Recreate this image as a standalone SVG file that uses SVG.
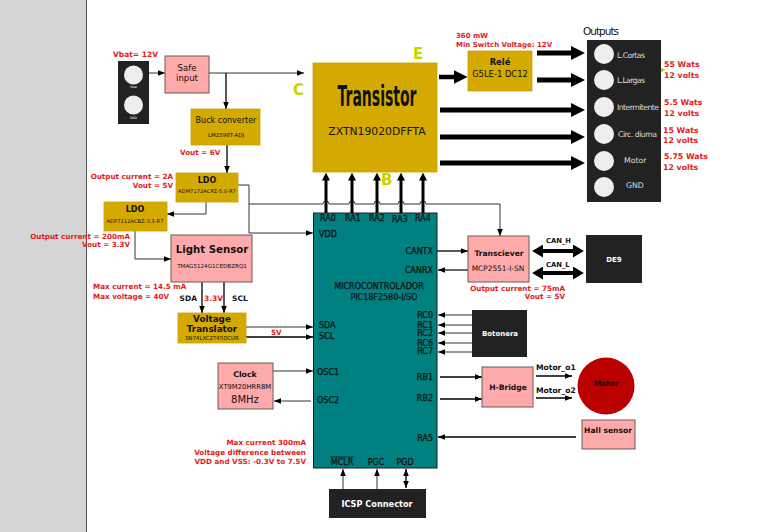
<svg xmlns="http://www.w3.org/2000/svg" width="774" height="532" viewBox="0 0 774 532">
<style>
text{font-family:"DejaVu Sans","Liberation Sans",sans-serif;fill:#111}
.b{font-weight:bold}
.r{fill:#e41a1a;font-weight:bold;font-size:7.2px}
.m{text-anchor:middle}
.e{text-anchor:end}
.ol{fill:#d4aa00;stroke:#c9a300;stroke-width:0.8}
.pk{fill:#ffaaaa;stroke:#6b5a5a;stroke-width:1}
.bk{fill:#222}
.w{fill:#fff}
.ln{fill:none;stroke:#333;stroke-width:1}
.lk{fill:none;stroke:#000;stroke-width:1.3}
.th{fill:none;stroke:#000;stroke-width:5}
.ra{fill:none;stroke:#000;stroke-width:3}
.cl{fill:#c8d400;font-weight:bold}
.ci{fill:#eee}
.ot{fill:#ddd;font-size:7.8px}
.mp text{stroke:#111;stroke-width:0.25;font-size:8px}
</style>
<defs>
<marker id="s" viewBox="0 0 10 10" refX="10" refY="5" markerWidth="7" markerHeight="7" markerUnits="userSpaceOnUse" orient="auto"><path d="M0,1 L10,5 L0,9 z" fill="#000"/></marker>
<marker id="sr" viewBox="0 0 10 10" refX="10" refY="5" markerWidth="7" markerHeight="7" markerUnits="userSpaceOnUse" orient="auto-start-reverse"><path d="M0,1 L10,5 L0,9 z" fill="#000"/></marker>
<marker id="ram" viewBox="0 0 10 10" refX="1" refY="5" markerWidth="8" markerHeight="8" markerUnits="userSpaceOnUse" orient="auto"><path d="M0,0 L10,5 L0,10 z" fill="#000"/></marker>
<marker id="big" viewBox="0 0 10 10" refX="1" refY="5" markerWidth="14" markerHeight="14" markerUnits="userSpaceOnUse" orient="auto"><path d="M0,0 L10,5 L0,10 z" fill="#000"/></marker>
<marker id="can" viewBox="0 0 10 10" refX="1" refY="5" markerWidth="11" markerHeight="13" markerUnits="userSpaceOnUse" orient="auto-start-reverse" preserveAspectRatio="none"><path d="M0,0 L10,5 L0,10 z" fill="#000"/></marker>
</defs>
<rect x="0" y="0" width="774" height="532" fill="#fff"/>
<rect x="0" y="0" width="86" height="532" fill="#d4d4d4"/>
<line x1="86.5" y1="0" x2="86.5" y2="532" stroke="#555" stroke-width="1"/>

<g id="connectors">
<path class="ln" d="M149,73 H165" marker-end="url(#s)"/>
<path class="ln" d="M209,73 H304" marker-end="url(#s)"/>
<path class="lk" d="M226,73 V109" marker-end="url(#s)"/>
<path class="lk" d="M227,145 V173" marker-end="url(#s)"/>
<path class="ln" d="M238,185 H249 V233 H313" marker-end="url(#s)"/>
<path class="ln" d="M249,204 H323 a3,3 0 0 1 6,0 H349 a3,3 0 0 1 6,0 H374 a3,3 0 0 1 6,0 H398 a3,3 0 0 1 6,0 H420 a3,3 0 0 1 6,0 H500 V236" marker-end="url(#s)"/>
<path class="ln" d="M206,202 V214 H167" marker-end="url(#s)"/>
<path class="ln" d="M135,231 V259 H171" marker-end="url(#s)"/>
<path class="lk" d="M202,282 V313" marker-end="url(#s)"/>
<path class="lk" d="M224,282 V313" marker-end="url(#s)"/>
<path class="ln" d="M246,327 H313" marker-end="url(#s)"/>
<path class="lk" d="M246,337 H313" marker-end="url(#s)"/>
<path class="ln" d="M273,371 H313" marker-end="url(#s)"/>
<path class="ln" d="M311,401 H274" marker-end="url(#s)"/>
<path class="ra" d="M326,213 V179.8" marker-end="url(#ram)"/>
<path class="ra" d="M352,213 V179.8" marker-end="url(#ram)"/>
<path class="ra" d="M377,213 V179.8" marker-end="url(#ram)"/>
<path class="ra" d="M401,213 V179.8" marker-end="url(#ram)"/>
<path class="ra" d="M423,213 V179.8" marker-end="url(#ram)"/>
<path class="th" d="M439,77 H455" marker-end="url(#big)" style="stroke-width:4.5"/>
<path class="th" d="M537,53 H572.4" marker-end="url(#big)"/>
<path class="th" d="M537,80 H572.4" marker-end="url(#big)"/>
<path class="th" d="M440,110 H572.4" marker-end="url(#big)"/>
<path class="th" d="M440,137 H572.4" marker-end="url(#big)"/>
<path class="th" d="M440,163 H572.4" marker-end="url(#big)"/>
<path class="lk" d="M437,251 H468" marker-end="url(#s)"/>
<path class="ln" d="M468,270 H438" marker-end="url(#s)" style="stroke-width:1.5"/>
<path class="th" d="M542,251 H574" marker-start="url(#can)" marker-end="url(#can)" style="stroke-width:4"/>
<path class="th" d="M542,273 H574" marker-start="url(#can)" marker-end="url(#can)" style="stroke-width:4"/>
<path class="ln" d="M472,315 H438" marker-end="url(#s)"/>
<path class="ln" d="M472,325 H438" marker-end="url(#s)"/>
<path class="ln" d="M472,333 H438" marker-end="url(#s)"/>
<path class="ln" d="M472,343 H438" marker-end="url(#s)"/>
<path class="ln" d="M472,352 H438" marker-end="url(#s)"/>
<path class="lk" d="M440,377 H482" marker-end="url(#s)"/>
<path class="lk" d="M440,399 H482" marker-end="url(#s)"/>
<path class="lk" d="M536,376 H572" marker-end="url(#s)"/>
<path class="lk" d="M536,398 H572" marker-end="url(#s)"/>
<path class="lk" d="M576,437 H438" marker-end="url(#s)" style="stroke-width:1.6"/>
<path class="ln" d="M343,489 V469" marker-end="url(#s)"/>
<path class="ln" d="M377,489 V469" marker-end="url(#s)"/>
<path class="lk" d="M406,488 V469" marker-start="url(#sr)" marker-end="url(#sr)"/>
<path d="M654,49 q5,0 5,4 v12 q0,4 3,5 q-3,1 -3,5 v12 q0,4 -5,4" fill="none" stroke="#aad400" stroke-width="2.5"/>
</g>

<g id="vbat">
<rect class="bk" x="118" y="61" width="31" height="63"/>
<circle class="ci" cx="133.5" cy="75" r="9.5"/>
<circle class="ci" cx="133.5" cy="105" r="9.5"/>
<text class="m w" x="133.5" y="88" style="font-size:3px">Vbat</text>
<text class="m w" x="133.5" y="119" style="font-size:3px">GND</text>
<text class="r" x="113" y="57" style="font-size:7.5px">Vbat= 12V</text>
</g>
<g id="safe">
<rect class="pk" x="165" y="56" width="44" height="37"/>
<text class="m" x="187" y="71" style="font-size:8.5px">Safe</text>
<text class="m" x="187" y="81" style="font-size:8.5px">input</text>
</g>
<g id="buck">
<rect class="ol" x="191" y="109" width="69" height="36"/>
<text class="m" x="226" y="123" style="font-size:8px">Buck converter</text>
<text class="m" x="226" y="137" style="font-size:5.5px">LM2596T-ADJ</text>
<text class="r" x="180" y="155">Vout = 6V</text>
</g>
<g id="ldo1">
<rect class="ol" x="176" y="173" width="62" height="29"/>
<text class="m b" x="207" y="183" style="font-size:8px">LDO</text>
<text class="m" x="207" y="193" style="font-size:5.2px">ADM7172ACPZ-5.0-R7</text>
<text class="r e" x="173" y="179">Output current = 2A</text>
<text class="r e" x="173" y="188">Vout = 5V</text>
</g>
<g id="ldo2">
<rect class="ol" x="104" y="202" width="63" height="29"/>
<text class="m b" x="135" y="212" style="font-size:8px">LDO</text>
<text class="m" x="135" y="223" style="font-size:5.2px">ADP7112ACBZ-3.3-R7</text>
<text class="r e" x="130" y="239">Output current = 200mA</text>
<text class="r e" x="130" y="247">Vout = 3.3V</text>
</g>
<g id="light">
<rect class="pk" x="171" y="235" width="81" height="47"/>
<text class="m b" x="212" y="253" style="font-size:10.2px">Light Sensor</text>
<text class="m" x="212" y="268" style="font-size:5.6px">TMAG5124G1CEDBZRQ1</text>
<text class="r" x="93" y="289">Max current = 14.5 mA</text>
<text class="r" x="93" y="299">Max voltage = 40V</text>
<text class="b e" x="197" y="301" style="font-size:7.5px">SDA</text>
<text class="r" x="204" y="301" style="font-size:7.5px">3.3V</text>
<text class="b" x="232" y="301" style="font-size:7.5px">SCL</text>
</g>
<g id="translator">
<rect class="ol" x="178" y="313" width="68" height="30"/>
<text class="m b" x="212" y="322" style="font-size:8.8px">Voltage</text>
<text class="m b" x="212" y="332" style="font-size:8.8px">Translator</text>
<text class="m" x="212" y="340" style="font-size:5.4px">SN74LXC2T45DCUR</text>
<text class="r" x="271" y="335">5V</text>
</g>
<g id="clock">
<rect class="pk" x="218" y="363" width="55" height="46"/>
<text class="m b" x="245" y="377" style="font-size:7.8px">Clock</text>
<text class="m" x="245" y="389" style="font-size:6.8px">XT9M20HRR8M</text>
<text class="m" x="245" y="403" style="font-size:10px">8MHz</text>
</g>
<g id="transistor">
<rect class="ol" x="313" y="63" width="124" height="109"/>
<text class="m b" x="377" y="106" style="font-size:28px" textLength="79" lengthAdjust="spacingAndGlyphs">Transistor</text>
<text class="m" x="377" y="135" style="font-size:10.8px">ZXTN19020DFFTA</text>
<text class="cl" x="293" y="95" style="font-size:15px">C</text>
<text class="cl" x="413" y="59" style="font-size:15px">E</text>
<text class="cl" x="381" y="185" style="font-size:15px">B</text>
</g>
<g id="micro">
<rect x="313.5" y="213" width="123.5" height="255" fill="#008080" stroke="#1a1a1a" stroke-width="1"/>
<g class="mp">
<text class="m" x="328" y="221">RA0</text>
<text class="m" x="353" y="221">RA1</text>
<text class="m" x="377" y="221">RA2</text>
<text class="m" x="400" y="222">RA3</text>
<text class="m" x="423" y="221">RA4</text>
<text x="319" y="237">VDD</text>
<text class="e" x="433" y="254">CANTX</text>
<text class="e" x="433" y="273">CANRX</text>
<text class="m" x="379" y="289">MICROCONTROLADOR</text>
<text class="m" x="384" y="300">PIC18F2580-I/SO</text>
<text class="e" x="433" y="318">RC0</text>
<text class="e" x="433" y="328">RC1</text>
<text class="e" x="433" y="336">RC2</text>
<text class="e" x="433" y="346">RC6</text>
<text class="e" x="433" y="354">RC7</text>
<text x="319" y="328">SDA</text>
<text x="319" y="339">SCL</text>
<text x="317" y="375">OSC1</text>
<text x="317" y="403">OSC2</text>
<text class="e" x="433" y="380">RB1</text>
<text class="e" x="433" y="401">RB2</text>
<text class="e" x="433" y="441">RA5</text>
<text class="m" x="342" y="465">MCLR</text>
<text class="m" x="376" y="465">PGC</text>
<text class="m" x="405" y="465">PGD</text>
</g>
<line x1="330" y1="457" x2="354" y2="457" stroke="#111" stroke-width="0.8"/>
<text class="r e" x="306" y="445">Max current 300mA</text>
<text class="r e" x="306" y="455">Voltage difference between</text>
<text class="r e" x="306" y="464">VDD and VSS: -0.3V to 7.5V</text>
</g>
<g id="icsp">
<rect class="bk" x="329" y="489" width="97" height="29"/>
<text class="m b w" x="377" y="507" style="font-size:8.2px">ICSP Connector</text>
</g>
<g id="rele">
<rect class="ol" x="468" y="51" width="64" height="40"/>
<text class="m b" x="500" y="65" style="font-size:8.4px">Relé</text>
<text class="m" x="500" y="77" style="font-size:8.4px">G5LE-1 DC12</text>
<text class="r" x="456" y="38" style="font-size:7px">360 mW</text>
<text class="r" x="456" y="47" style="font-size:7px">Min Switch Voltage: 12V</text>
</g>
<g id="outputs">
<text x="583" y="35" style="font-size:10.5px" textLength="36">Outputs</text>
<rect class="bk" x="587" y="40" width="74" height="162"/>
<circle class="ci" cx="604" cy="54" r="10"/>
<circle class="ci" cx="604" cy="80" r="10"/>
<circle class="ci" cx="604" cy="107" r="10"/>
<circle class="ci" cx="604" cy="134" r="10"/>
<circle class="ci" cx="604" cy="161" r="10"/>
<circle class="ci" cx="604" cy="187" r="10"/>
<text class="ot" x="617" y="58" textLength="28">L.Cortas</text>
<text class="ot" x="617" y="83" textLength="28">L.Largas</text>
<text class="ot" x="617" y="110" textLength="42">Intermitente</text>
<text class="ot" x="618" y="137" textLength="39">Circ. diurna</text>
<text class="ot" x="624" y="163">Motor</text>
<text class="ot" x="626" y="188">GND</text>
<text class="r" x="664" y="67" style="font-size:7.8px">55 Wats</text>
<text class="r" x="664" y="78" style="font-size:7.8px">12 volts</text>
<text class="r" x="664" y="105" style="font-size:7.8px">5.5 Wats</text>
<text class="r" x="664" y="116" style="font-size:7.8px">12 volts</text>
<text class="r" x="663" y="133" style="font-size:7.8px">15 Wats</text>
<text class="r" x="663" y="143" style="font-size:7.8px">12 volts</text>
<text class="r" x="664" y="159" style="font-size:7.8px">5.75 Wats</text>
<text class="r" x="663" y="170" style="font-size:7.8px">12 volts</text>
</g>
<g id="transceiver">
<rect class="pk" x="468" y="236" width="61" height="46"/>
<text class="m b" x="499" y="256" style="font-size:7.6px">Transciever</text>
<text class="m" x="498" y="271" style="font-size:7.4px">MCP2551-I-SN</text>
<text class="r e" x="565" y="291">Output current = 75mA</text>
<text class="r e" x="565" y="299">Vout = 5V</text>
<text class="b" x="546" y="243" style="font-size:6.8px">CAN_H</text>
<text class="b" x="546" y="267" style="font-size:6.8px">CAN_L</text>
</g>
<g id="de9">
<rect class="bk" x="586" y="235" width="56" height="48"/>
<text class="m b w" x="614" y="262" style="font-size:7px">DE9</text>
</g>
<g id="botonera">
<rect class="bk" x="472" y="310" width="55" height="47"/>
<text class="m b w" x="500" y="336" style="font-size:7px">Botonera</text>
</g>
<g id="hbridge">
<rect class="pk" x="482" y="367" width="51" height="40"/>
<text class="m b" x="508" y="390" style="font-size:7.6px">H-Bridge</text>
<text class="b" x="536" y="370" style="font-size:7.6px">Motor_o1</text>
<text class="b" x="536" y="393" style="font-size:7.6px">Motor_o2</text>
</g>
<g id="motor">
<circle cx="606" cy="386" r="28.5" fill="#bb0000"/>
<text class="m b" x="606" y="386" style="font-size:7.4px">Motor</text>
</g>
<g id="hall">
<rect class="pk" x="582" y="420" width="53" height="29"/>
<text class="m b" x="608" y="433" style="font-size:7.6px">Hall sensor</text>
</g>
</svg>
